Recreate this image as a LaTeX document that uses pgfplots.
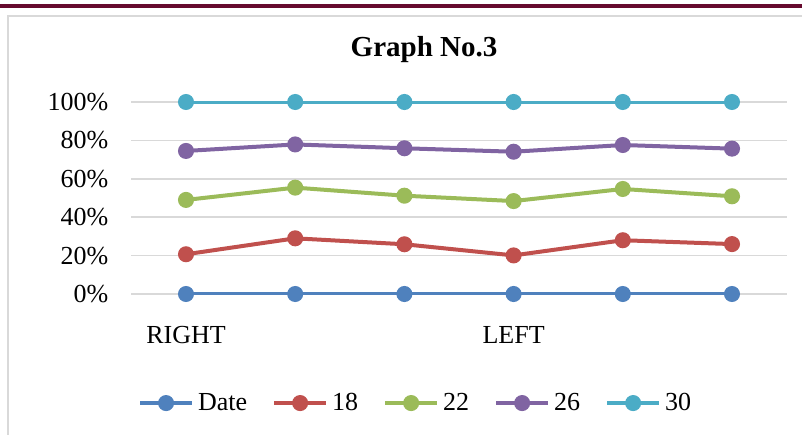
\documentclass[border=0pt]{standalone}
\usepackage{pgfplots}
\pgfplotsset{compat=1.18}
\usepackage{fontspec}
\setmainfont{Liberation Serif}

\definecolor{sBlue}{HTML}{4F81BD}
\definecolor{sRed}{HTML}{C0504D}
\definecolor{sGreen}{HTML}{9BBB59}
\definecolor{sPurple}{HTML}{8064A2}
\definecolor{sAqua}{HTML}{4BACC6}
\definecolor{gridgray}{HTML}{D9D9D9}
\definecolor{maroon}{HTML}{660A2E}

\begin{document}
\begin{tikzpicture}[x=1pt,y=1pt]
\useasboundingbox (0,0) rectangle (802,434);
% page rule and chart frame
\fill[maroon] (0,426) rectangle (802,430);
\draw[gridgray, line width=2pt] (8,-5) -- (8,418) -- (810,418);
\node[font=\fontsize{29}{32}\selectfont\bfseries] at (424,384) {Graph No.3};

\begin{axis}[
  at={(131.4pt,140pt)}, anchor=south west,
  scale only axis,
  width=655.2pt, height=192pt,
  xmin=-0.5, xmax=5.5, ymin=0, ymax=100,
  enlargelimits=false,
  axis line style={draw=none},
  tick style={draw=none},
  ytick={0,20,40,60,80,100},
  yticklabel={\pgfmathprintnumber{\tick}\%},
  yticklabel style={anchor=east, inner sep=0pt, xshift=-23pt},
  ymajorgrids,
  grid style={gridgray, line width=1.5pt},
  xtick={0,...,5},
  xticklabels={RIGHT,,,LEFT,,},
  xticklabel style={anchor=north, inner sep=0pt, yshift=-32pt},
  tick label style={font=\fontsize{26}{30}\selectfont},
  /pgf/number format/assume math mode=true,
  every axis plot/.append style={line width=4pt, mark=*, mark size=6pt},
  legend columns=5,
  legend style={at={(0.433,-0.568)}, anchor=center, draw=none,
    font=\fontsize{26}{30}\selectfont, column sep=3pt,
    nodes={inner sep=1pt},
    /tikz/every even column/.append style={column sep=24pt}},
  legend image code/.code={
    \draw[#1, mark=none] (0pt,0pt) -- (52pt,0pt);
    \fill[#1] (26pt,0pt) circle (6pt);
  },
]
\addplot[sBlue] coordinates {(0,0) (1,0) (2,0) (3,0) (4,0) (5,0)};
\addplot[sRed] coordinates {(0,20.7) (1,29.0) (2,25.9) (3,20.1) (4,28.0) (5,26.0)};
\addplot[sGreen] coordinates {(0,49.0) (1,55.4) (2,51.2) (3,48.4) (4,54.7) (5,50.9)};
\addplot[sPurple] coordinates {(0,74.5) (1,77.9) (2,75.9) (3,74.1) (4,77.6) (5,75.7)};
\addplot[sAqua] coordinates {(0,100) (1,100) (2,100) (3,100) (4,100) (5,100)};
\legend{Date,18,22,26,30}
\end{axis}
\end{tikzpicture}
\end{document}
